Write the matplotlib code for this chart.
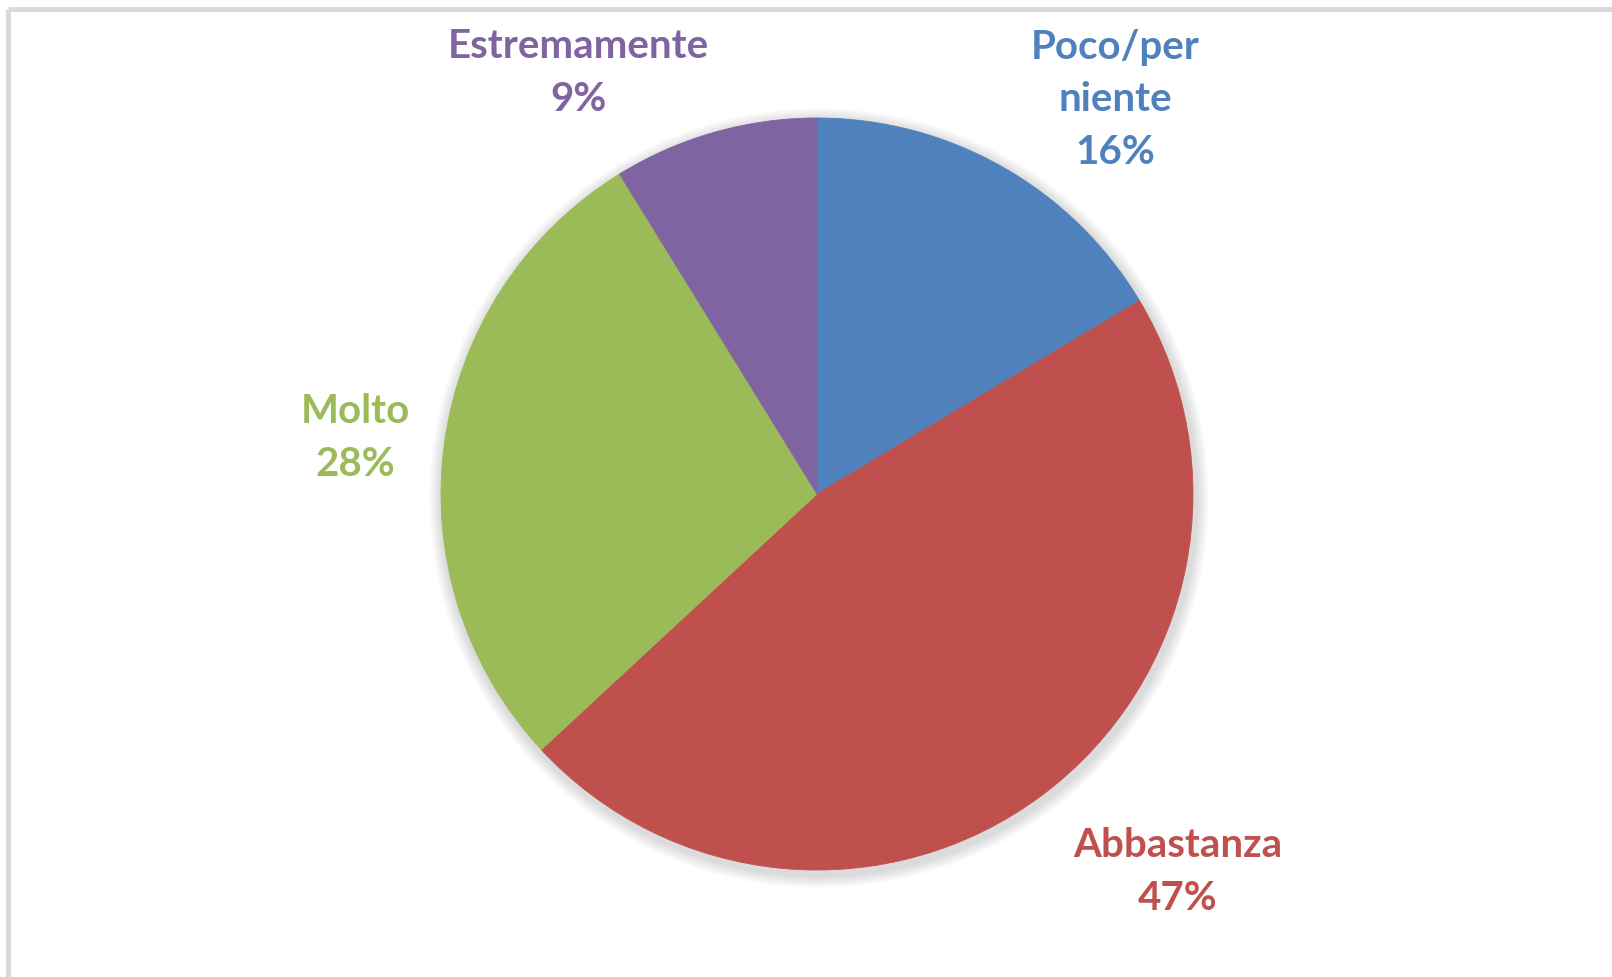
import numpy as np
import matplotlib.pyplot as plt
from matplotlib.patches import Circle

# data
categories = ["Poco/per\nniente", "Abbastanza", "Molto", "Estremamente"]
values = [16.4, 46.7, 28.1, 8.8]
colors = ["#4F81BD", "#C0504D", "#9BBB59", "#8064A2"]

W, H = 1612, 978
fig = plt.figure(figsize=(W / 100, H / 100), dpi=100)
ax = fig.add_axes([0, 0, 1, 1])

cx, cy, r = 817, H - 495, 376

# soft shadow behind the pie
for i in range(12):
    ax.add_patch(Circle((cx + 2, cy - 4), r + 14 - i, color="black",
                        alpha=0.010, lw=0, zorder=0))

wedges, _ = ax.pie(values, colors=colors, startangle=90, counterclock=False,
                   center=(cx, cy), radius=r, frame=True)
for w, c in zip(wedges, colors):
    w.set_edgecolor(c)
    w.set_linewidth(0.6)
ax.set_xlim(0, W)
ax.set_ylim(0, H)
ax.set_aspect("equal")
ax.axis("off")

# label positions (pixels from top-left)
label_pos = [(1115, 100), (1178, 872), (355, 438), (578, 73)]
for name, v, c, (x, y) in zip(categories, values, colors, label_pos):
    ax.text(x, H - y, f"{name}\n{round(v)}%", color=c, ha="center",
            va="center", fontsize=29, fontweight="bold", family="Lato",
            linespacing=1.52)

# chart frame (top and left edges visible)
ax.plot([8, W], [H - 10, H - 10], color="#d9d9d9", lw=3.5,
        solid_capstyle="butt", clip_on=False)
ax.plot([8, 8], [0, H - 10], color="#d9d9d9", lw=3.5,
        solid_capstyle="butt", clip_on=False)

fig.savefig("out.png", dpi=100)
